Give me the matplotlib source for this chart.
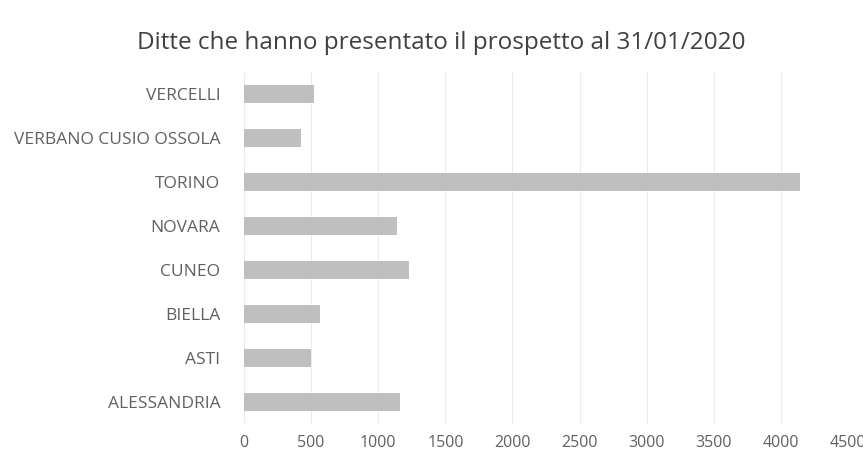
import numpy as np
import matplotlib.pyplot as plt

plt.rcParams['font.family'] = ['Open Sans', 'DejaVu Sans']

# province, dal basso verso l'alto
province = ['ALESSANDRIA', 'ASTI', 'BIELLA', 'CUNEO', 'NOVARA',
            'TORINO', 'VERBANO CUSIO OSSOLA', 'VERCELLI']
ditte = [1160, 500, 570, 1230, 1140, 4145, 425, 520]
x_ticks = [0, 500, 1000, 1500, 2000, 2500, 3000, 3500, 4000, 4500]

title = 'Ditte che hanno presentato il prospetto al 31/01/2020'

fig = plt.figure(figsize=(8.63, 4.57), dpi=100)
ax = fig.add_axes([0.2827, 0.0722, 0.70, 0.7703])

y = np.arange(len(province))
ax.barh(y, ditte, height=0.43, color='#bfbfbf', zorder=2)

ax.set_xlim(0, 4500)
ax.set_ylim(-0.5, len(province) - 0.5)
ax.set_xticks(x_ticks)
ax.set_xticklabels([str(t) for t in x_ticks], fontsize=11.5, color='#606060')
ax.set_yticks(y)
ax.set_yticklabels(province, fontsize=12.5, color='#606060')
ax.tick_params(axis='both', length=0)
ax.tick_params(axis='x', pad=8)
ax.tick_params(axis='y', pad=17)

ax.grid(axis='x', color='#ececec', linewidth=0.8, zorder=0)
for s in ax.spines.values():
    s.set_visible(False)

fig.text(0.511, 0.905, title, ha='center', va='center',
         fontsize=17.5, color='#404040')

fig.savefig('out.png', dpi=100)
